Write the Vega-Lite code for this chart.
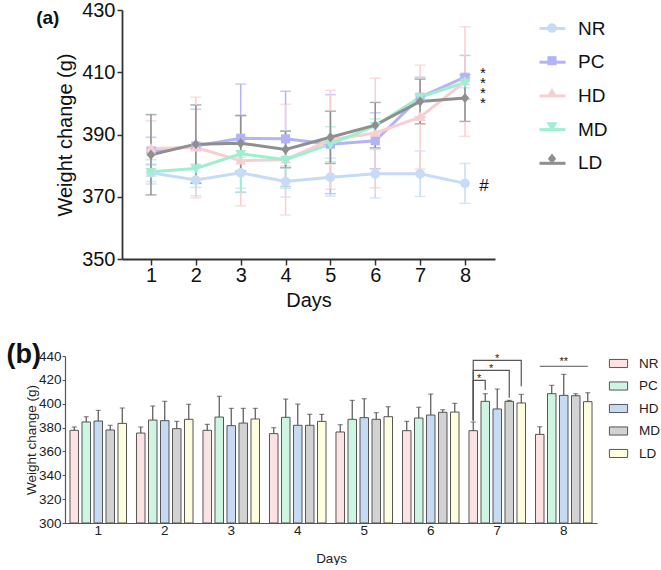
{
  "$schema": "https://vega.github.io/schema/vega-lite/v6.json",
  "padding": {"left": 6, "top": 0, "right": 0, "bottom": 0},
  "background": "white",
  "config": {
    "font": "Liberation Sans",
    "view": {"stroke": null},
    "axis": {"grid": false, "labelFont": "Liberation Sans", "titleFont": "Liberation Sans"},
    "legend": {"labelFont": "Liberation Sans"},
    "title": {"font": "Liberation Sans"}
  },
  "datasets": {
    "weights": [
      {"day": 1, "group": "NR", "mean": 377.7, "sd": 2.8},
      {"day": 1, "group": "PC", "mean": 384.7, "sd": 4.4},
      {"day": 1, "group": "HD", "mean": 385.5, "sd": 8.9},
      {"day": 1, "group": "MD", "mean": 378.0, "sd": 3.9},
      {"day": 1, "group": "LD", "mean": 383.5, "sd": 12.9},
      {"day": 2, "group": "NR", "mean": 375.4, "sd": 5.1},
      {"day": 2, "group": "PC", "mean": 386.3, "sd": 11.8},
      {"day": 2, "group": "HD", "mean": 385.8, "sd": 16.2},
      {"day": 2, "group": "MD", "mean": 379.1, "sd": 6.1},
      {"day": 2, "group": "LD", "mean": 386.9, "sd": 12.6},
      {"day": 3, "group": "NR", "mean": 377.7, "sd": 5.0},
      {"day": 3, "group": "PC", "mean": 388.8, "sd": 17.4},
      {"day": 3, "group": "HD", "mean": 381.6, "sd": 14.5},
      {"day": 3, "group": "MD", "mean": 383.8, "sd": 12.3},
      {"day": 3, "group": "LD", "mean": 387.2, "sd": 8.9},
      {"day": 4, "group": "NR", "mean": 374.9, "sd": 5.0},
      {"day": 4, "group": "PC", "mean": 388.6, "sd": 15.3},
      {"day": 4, "group": "HD", "mean": 381.9, "sd": 17.8},
      {"day": 4, "group": "MD", "mean": 381.9, "sd": 9.2},
      {"day": 4, "group": "LD", "mean": 385.2, "sd": 5.9},
      {"day": 5, "group": "NR", "mean": 376.3, "sd": 6.1},
      {"day": 5, "group": "PC", "mean": 386.9, "sd": 15.9},
      {"day": 5, "group": "HD", "mean": 388.3, "sd": 15.9},
      {"day": 5, "group": "MD", "mean": 386.9, "sd": 5.6},
      {"day": 5, "group": "LD", "mean": 389.1, "sd": 8.4},
      {"day": 6, "group": "NR", "mean": 377.4, "sd": 7.8},
      {"day": 6, "group": "PC", "mean": 388.0, "sd": 9.0},
      {"day": 6, "group": "HD", "mean": 390.5, "sd": 17.6},
      {"day": 6, "group": "MD", "mean": 392.8, "sd": 2.2},
      {"day": 6, "group": "LD", "mean": 393.0, "sd": 7.3},
      {"day": 7, "group": "NR", "mean": 377.4, "sd": 7.3},
      {"day": 7, "group": "PC", "mean": 402.0, "sd": 6.4},
      {"day": 7, "group": "HD", "mean": 395.6, "sd": 16.7},
      {"day": 7, "group": "MD", "mean": 402.0, "sd": 0.8},
      {"day": 7, "group": "LD", "mean": 400.6, "sd": 7.2},
      {"day": 8, "group": "NR", "mean": 374.3, "sd": 6.4},
      {"day": 8, "group": "PC", "mean": 408.4, "sd": 7.0},
      {"day": 8, "group": "HD", "mean": 407.0, "sd": 17.6},
      {"day": 8, "group": "MD", "mean": 406.7, "sd": 1.7},
      {"day": 8, "group": "LD", "mean": 401.7, "sd": 7.5}
    ],
    "brackets": [
      {"bracket": "b1", "step": 1, "day": 7, "group": "NR", "value": 386},
      {"bracket": "b1", "step": 2, "day": 7, "group": "NR", "value": 419.6},
      {"bracket": "b1", "step": 3, "day": 7, "group": "PC", "value": 419.6},
      {"bracket": "b1", "step": 4, "day": 7, "group": "PC", "value": 411.6},
      {"bracket": "b2", "step": 1, "day": 7, "group": "NR", "value": 386},
      {"bracket": "b2", "step": 2, "day": 7, "group": "NR", "value": 428.0},
      {"bracket": "b2", "step": 3, "day": 7, "group": "MD", "value": 428.0},
      {"bracket": "b2", "step": 4, "day": 7, "group": "MD", "value": 405.0},
      {"bracket": "b3", "step": 1, "day": 7, "group": "NR", "value": 386},
      {"bracket": "b3", "step": 2, "day": 7, "group": "NR", "value": 436.4},
      {"bracket": "b3", "step": 3, "day": 7, "group": "LD", "value": 436.4},
      {"bracket": "b3", "step": 4, "day": 7, "group": "LD", "value": 414.6},
      {"bracket": "b4", "step": 1, "day": 8, "group": "NR", "value": 431.4},
      {"bracket": "b4", "step": 2, "day": 8, "group": "LD", "value": 431.4}
    ]
  },
  "resolve": {
    "scale": {"color": "independent", "shape": "independent", "fill": "independent"},
    "legend": {"color": "independent", "shape": "independent", "fill": "independent"}
  },
  "vconcat": [
    {
      "width": 430,
      "height": 249,
      "title": {"text": "(a)", "orient": "left", "anchor": "end", "frame": "group", "angle": 0, "align": "right", "baseline": "middle", "dy": 7.5, "offset": -27.5, "fontSize": 19, "fontWeight": "bold", "color": "#111"},
      "data": {"name": "weights"},
      "resolve": {"legend": {"color": "independent", "shape": "independent"}},
      "encoding": {
        "x": {"field": "day", "type": "quantitative",
          "scale": {"domain": [0.354, 8.669], "range": [57, 430], "nice": false, "zero": false},
          "axis": {"values": [1, 2, 3, 4, 5, 6, 7, 8], "format": "d", "title": "Days", "labelFontSize": 20, "labelColor": "#111", "labelPadding": 0, "tickSize": 6, "tickWidth": 1.5, "tickColor": "#333", "domainColor": "#333", "domainWidth": 1.8, "titleFontSize": 20, "titleFontWeight": "normal", "titleColor": "#111", "titlePadding": 5}},
        "y": {"field": "mean", "type": "quantitative",
          "scale": {"domain": [350, 430], "nice": false, "zero": false},
          "axis": {"offset": -57, "values": [350, 370, 390, 410, 430], "labelOverlap": false, "title": "Weight change (g)", "labelFontSize": 20, "labelColor": "#111", "labelPadding": 2, "tickSize": 5, "tickWidth": 1.5, "tickColor": "#333", "domainColor": "#333", "domainWidth": 1.8, "titleFontSize": 20, "titleFontWeight": "normal", "titleColor": "#111", "titlePadding": 6.5}}
      },
      "layer": [
        {"mark": {"type": "errorbar", "ticks": true, "size": 11, "thickness": 1.5},
          "encoding": {"yError": {"field": "sd"},
            "color": {"field": "group", "type": "nominal",
              "scale": {"domain": ["NR", "PC", "HD", "MD", "LD"], "range": ["#c6dbf5", "#b3b3f7", "#f8cfd0", "#9eefd0", "#8f8f8f"]},
              "legend": null}}},
        {"mark": {"type": "line", "strokeWidth": 3},
          "encoding": {
            "color": {"field": "group", "type": "nominal",
              "scale": {"domain": ["NR", "PC", "HD", "MD", "LD"], "range": ["#c6dbf5", "#b3b3f7", "#f8cfd0", "#9eefd0", "#8f8f8f"]},
              "legend": {"title": null, "orient": "none", "legendX": 473, "legendY": 4, "padding": 0, "symbolType": "stroke", "symbolSize": 676, "symbolStrokeWidth": 3, "labelFontSize": 19, "labelColor": "#111", "labelOffset": 11, "rowPadding": 8.7}}}},
        {"mark": {"type": "point", "filled": true, "size": 676, "opacity": 1},
          "encoding": {
            "color": {"field": "group", "type": "nominal",
              "scale": {"domain": ["NR", "PC", "HD", "MD", "LD"], "range": ["#c6dbf5", "#b3b3f7", "#f8cfd0", "#9eefd0", "#8f8f8f"]},
              "legend": {"title": null, "orient": "none", "legendX": 473, "legendY": 4, "padding": 0, "symbolSize": 676, "labelExpr": "''", "labelFontSize": 19, "labelOffset": 11, "rowPadding": 8.7}},
            "shape": {"field": "group", "type": "nominal",
              "scale": {"domain": ["NR", "PC", "HD", "MD", "LD"], "range": ["M0.37,0A0.37,0.37,0,1,1,-0.37,0A0.37,0.37,0,1,1,0.37,0Z", "M-0.35,-0.35H0.35V0.35H-0.35Z", "M0,-0.42L0.42,0.3H-0.42Z", "M0,0.42L0.42,-0.3H-0.42Z", "M0,-0.4L0.32,0L0,0.4L-0.32,0Z"]},
              "legend": {"title": null, "orient": "none", "legendX": 473, "legendY": 4, "padding": 0, "symbolSize": 676, "labelExpr": "''", "labelFontSize": 19, "labelOffset": 11, "rowPadding": 8.7}}}},
        {"data": {"values": [{"day": 8, "value": 411.0, "label": "*\n*\n*\n*"}]},
          "mark": {"type": "text", "fontSize": 15, "dx": 18, "dy": 8.5, "lineBreak": "\n", "lineHeight": 10, "baseline": "alphabetic", "align": "center", "color": "#111"},
          "encoding": {"y": {"field": "value", "type": "quantitative"}, "text": {"field": "label"}}},
        {"data": {"values": [{"day": 8, "value": 373.9, "label": "#"}]},
          "mark": {"type": "text", "fontSize": 17, "dx": 19, "dy": 6, "baseline": "alphabetic", "align": "center", "color": "#111"},
          "encoding": {"y": {"field": "value", "type": "quantitative"}, "text": {"field": "label"}}}
      ]
    },
    {
      "width": 532,
      "height": 167,
      "title": {"text": "(b)", "orient": "left", "anchor": "end", "frame": "group", "angle": 0, "align": "right", "baseline": "middle", "dy": -1.5, "offset": -51, "fontSize": 27, "fontWeight": "bold", "color": "#111"},
      "encoding": {
        "x": {"field": "day", "type": "nominal",
          "scale": {"paddingInner": 0, "paddingOuter": 0},
          "axis": {"title": "Days", "labelAngle": 0, "labelFontSize": 13.5, "labelColor": "#222", "ticks": false, "tickSize": 0, "labelPadding": 0, "domainColor": "#555", "domainWidth": 1.2, "titleFontSize": 13.5, "titleFontWeight": "normal", "titleColor": "#222", "titlePadding": 15}},
        "xOffset": {"field": "group", "type": "nominal", "scale": {"domain": ["NR", "PC", "HD", "MD", "LD"], "paddingInner": 0.29, "paddingOuter": 0.415}}
      },
      "layer": [
        {"data": {"name": "weights"},
          "mark": {"type": "errorbar", "ticks": true, "size": 5, "thickness": 1.2, "color": "#555"},
          "encoding": {
            "y": {"field": "mean", "type": "quantitative", "scale": {"domain": [300, 440], "nice": false, "zero": false},
              "axis": {"values": [300, 320, 340, 360, 380, 400, 420, 440], "labelOverlap": false, "title": "Weight change (g)", "labelFontSize": 13.5, "labelColor": "#222", "labelPadding": 1, "tickSize": 3, "tickColor": "#555", "domainColor": "#555", "domainWidth": 1.2, "titleFontSize": 13.5, "titleFontWeight": "normal", "titleColor": "#222", "titlePadding": 0}},
            "yError": {"field": "sd"}}},
        {"data": {"name": "weights"},
          "mark": {"type": "bar", "stroke": "#555", "strokeWidth": 1},
          "encoding": {
            "y": {"field": "mean", "type": "quantitative", "scale": {"domain": [300, 440], "nice": false, "zero": false},
              "axis": {"values": [300, 320, 340, 360, 380, 400, 420, 440], "labelOverlap": false, "title": "Weight change (g)", "labelFontSize": 13.5, "labelColor": "#222", "labelPadding": 1, "tickSize": 3, "tickColor": "#555", "domainColor": "#555", "domainWidth": 1.2, "titleFontSize": 13.5, "titleFontWeight": "normal", "titleColor": "#222", "titlePadding": 0}},
            "y2": {"datum": 300},
            "fill": {"field": "group", "type": "nominal",
              "scale": {"domain": ["NR", "PC", "HD", "MD", "LD"], "range": ["#fce2e2", "#cdf5e1", "#c6daf4", "#d2d2d2", "#fefde0"]},
              "legend": {"title": null, "orient": "right", "offset": 13.7, "padding": 0, "symbolType": "M-1.3,-0.58H1.3V0.58H-1.3Z", "symbolSize": 196, "symbolStrokeColor": "#555", "symbolStrokeWidth": 1, "labelFontSize": 13.5, "labelColor": "#222", "labelOffset": 13, "rowPadding": 8.5}}}},
        {"data": {"name": "brackets"},
          "mark": {"type": "line", "color": "#555", "strokeWidth": 1.2},
          "encoding": {
            "y": {"field": "value", "type": "quantitative",
              "axis": {"values": [300, 320, 340, 360, 380, 400, 420, 440], "labelOverlap": false, "title": "Weight change (g)", "labelFontSize": 13.5, "labelColor": "#222", "labelPadding": 1, "tickSize": 3, "tickColor": "#555", "domainColor": "#555", "domainWidth": 1.2, "titleFontSize": 13.5, "titleFontWeight": "normal", "titleColor": "#222", "titlePadding": 0}},
            "detail": {"field": "bracket"},
            "order": {"field": "step", "type": "quantitative"}}},
        {"data": {"values": [
            {"day": 7, "group": "NR", "value": 423.0, "label": "*"},
            {"day": 7, "group": "PC", "value": 431.4, "label": "*"}]},
          "mark": {"type": "text", "fontSize": 11, "dx": 6, "dy": 6, "baseline": "alphabetic", "align": "center", "color": "#222"},
          "encoding": {"y": {"field": "value", "type": "quantitative",
              "axis": {"values": [300, 320, 340, 360, 380, 400, 420, 440], "labelOverlap": false, "title": "Weight change (g)", "labelFontSize": 13.5, "labelColor": "#222", "labelPadding": 1, "tickSize": 3, "tickColor": "#555", "domainColor": "#555", "domainWidth": 1.2, "titleFontSize": 13.5, "titleFontWeight": "normal", "titleColor": "#222", "titlePadding": 0}},
            "text": {"field": "label"}}},
        {"data": {"values": [
            {"day": 7, "group": "HD", "value": 439.7, "label": "*"},
            {"day": 8, "group": "HD", "value": 437.5, "label": "**"}]},
          "mark": {"type": "text", "fontSize": 11, "dx": 0, "dy": 6, "baseline": "alphabetic", "align": "center", "color": "#222"},
          "encoding": {"y": {"field": "value", "type": "quantitative",
              "axis": {"values": [300, 320, 340, 360, 380, 400, 420, 440], "labelOverlap": false, "title": "Weight change (g)", "labelFontSize": 13.5, "labelColor": "#222", "labelPadding": 1, "tickSize": 3, "tickColor": "#555", "domainColor": "#555", "domainWidth": 1.2, "titleFontSize": 13.5, "titleFontWeight": "normal", "titleColor": "#222", "titlePadding": 0}},
            "text": {"field": "label"}}}
      ]
    }
  ],
  "spacing": 30
}
